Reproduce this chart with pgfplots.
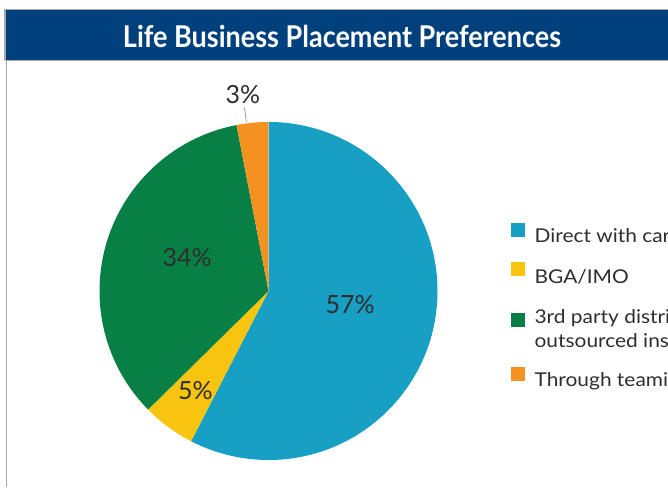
\documentclass[border=0pt]{standalone}
\usepackage{pgfplots}
\pgfplotsset{compat=1.18}
\usepackage{pgfplotstable}
\usepackage{fontspec}
\setmainfont{Lato}
\newfontfamily\titlefont[FakeStretch=0.9]{Lato}
\newfontfamily\legfont[FakeStretch=1.1]{Lato}

\definecolor{slice0}{HTML}{179FC4}
\definecolor{slice1}{HTML}{F7C40F}
\definecolor{slice2}{HTML}{087F44}
\definecolor{slice3}{HTML}{F39221}
\definecolor{barblue}{HTML}{00407D}
\definecolor{txt}{HTML}{2E2E2E}
\definecolor{frame}{HTML}{A8A8A8}

% share = percent, labr = label radius (x pie radius), dang = label angle shift
\pgfplotstableread{
share labr dang
57 0.49 4
5  0.73 0
34 0.52 -5
3  1.17 2
}\piedata

\tikzset{pctlabel/.style={font=\fontsize{25}{25}\selectfont, text=txt}}

\begin{document}
\begin{tikzpicture}
\useasboundingbox (0,0) rectangle (668pt,487pt);
% frame and title bar
\draw[frame, line width=1.5pt] (6.5pt,0) -- (6.5pt,427pt);
\fill[barblue] (5pt,427pt) rectangle (670pt,477pt);
\draw[frame, line width=1.2pt] (5pt,477.5pt) -- (670pt,477.5pt);
\draw[frame, line width=1.2pt] (5pt,426.5pt) -- (670pt,426.5pt);
\draw[frame, line width=1.2pt] (5pt,426.5pt) -- (5pt,477.5pt);
\node[text=white, font=\titlefont\bfseries\fontsize{30}{30}\selectfont] at (342pt,451pt) {Life Business Placement Preferences};

\begin{axis}[
  at={(268.5pt,196pt)}, anchor=origin,
  x=1pt, y=1pt, xmin=-175, xmax=175, ymin=-175, ymax=175,
  hide axis, clip=false,
  legend image code/.code={\fill[#1] (0pt,0pt) rectangle (13pt,13pt);},
  legend cell align=left,
  legend style={draw=none, fill=none, at={(axis cs:242.5,68)}, anchor=north west,
    inner sep=0pt, row sep=18pt, column sep=10pt,
    font=\legfont\fontsize{19}{22}\selectfont, text=txt,
    nodes={align=left, inner sep=0pt}},
]
\pgfplotstablegetrowsof{\piedata}
\pgfmathtruncatemacro{\nrows}{\pgfplotsretval-1}
\def\total{0}
\pgfplotsforeachungrouped \i in {0,...,\nrows}{%
  \pgfplotstablegetelem{\i}{share}\of\piedata
  \pgfmathsetmacro{\total}{\total+\pgfplotsretval}%
}
\def\cum{90}
\pgfplotsforeachungrouped \i in {0,...,\nrows}{%
  \pgfplotstablegetelem{\i}{share}\of\piedata \edef\share{\pgfplotsretval}%
  \pgfplotstablegetelem{\i}{labr}\of\piedata \edef\labr{\pgfplotsretval}%
  \pgfplotstablegetelem{\i}{dang}\of\piedata \edef\dang{\pgfplotsretval}%
  \pgfmathsetmacro{\endang}{\cum-\share/\total*360}%
  \pgfmathsetmacro{\sx}{169*cos(\cum)}%
  \pgfmathsetmacro{\sy}{169*sin(\cum)}%
  \pgfmathsetmacro{\mid}{(\cum+\endang)/2+\dang}%
  \pgfmathsetmacro{\lx}{169*\labr*cos(\mid)}%
  \pgfmathsetmacro{\ly}{169*\labr*sin(\mid)}%
  \edef\slice{\noexpand\fill[slice\i] (axis cs:0,0) -- (axis cs:\sx,\sy)
     arc[start angle=\cum, end angle=\endang, radius=169pt] -- cycle;
     \noexpand\node[pctlabel] at (axis cs:\lx,\ly) {\share\%};}%
  \slice
  \pgfmathparse{\labr>1 ? 1 : 0}%
  \ifnum\pgfmathresult=1
    \pgfmathsetmacro{\ax}{170*cos(\mid)}\pgfmathsetmacro{\ay}{170*sin(\mid)}%
    \pgfmathsetmacro{\bx}{185*cos(\mid)}\pgfmathsetmacro{\by}{185*sin(\mid)}%
    \edef\lead{\noexpand\draw[gray, line width=0.6pt] (axis cs:\ax,\ay) -- (axis cs:\bx,\by);}%
    \lead
  \fi
  \edef\cum{\endang}%
}
\addlegendimage{slice0}\addlegendentry{Direct with carriers}
\addlegendimage{slice1}\addlegendentry{\rule{0pt}{17pt}BGA/IMO}
\addlegendimage{slice2}\addlegendentry{\rule{0pt}{21pt}3rd party distributors/\\[2pt]outsourced insurance desks\rule[-7pt]{0pt}{7pt}}
\addlegendimage{slice3}\addlegendentry{Through teaming agreements}
\end{axis}
\end{tikzpicture}
\end{document}
